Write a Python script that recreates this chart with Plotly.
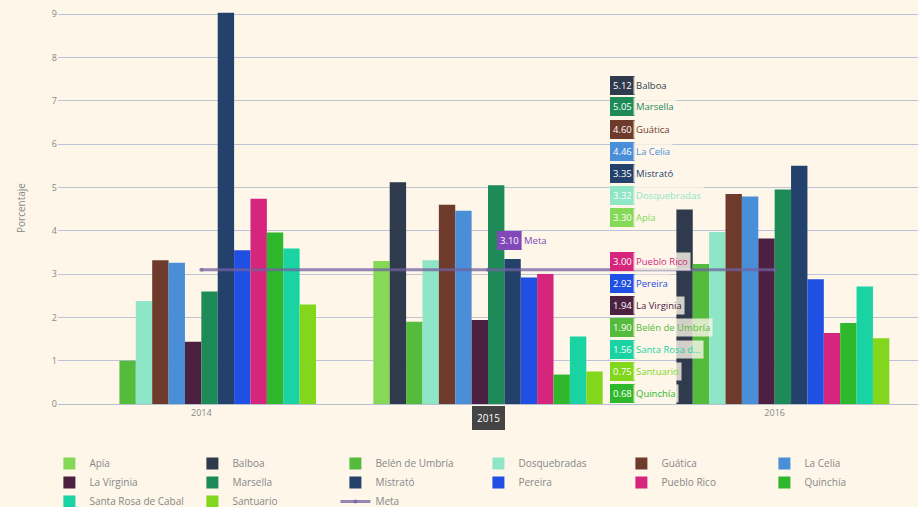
import plotly.graph_objects as go

years = ["2014", "2015", "2016"]
municipios = ["Apía", "Balboa", "Belén de Umbría", "Dosquebradas", "Guática", "La Celia",
              "La Virginia", "Marsella", "Mistrató", "Pereira", "Pueblo Rico", "Quinchía",
              "Santa Rosa de Cabal", "Santuario"]
colores = ["#86d957", "#2f3b4c", "#55bb3c", "#8fe6c6", "#6e3a2c", "#4a8ed8",
           "#4b2040", "#1e8a57", "#24416c", "#1f4fe3", "#d6257c", "#2fb82c",
           "#19d3a2", "#82d61c"]
v2014 = [None, None, 1.00, 2.38, 3.32, 3.26, 1.44, 2.60, 9.03, 3.55, 4.74, 3.96, 3.59, 2.30]
v2015 = [3.30, 5.12, 1.90, 3.32, 4.60, 4.46, 1.94, 5.05, 3.35, 2.92, 3.00, 0.68, 1.56, 0.75]
v2016 = [None, 4.49, 3.23, 3.97, 4.85, 4.79, 3.82, 4.95, 5.50, 2.88, 1.64, 1.87, 2.71, 1.52]
meta_nombre = "Meta"
meta_valor = 3.10
meta_color = "#8248b8"
meta_line_color = "rgba(112,98,160,0.75)"

BG = "#fdf6e9"
M_L, M_R, M_T, M_B = 58, 0, 12, 103
W, H = 918, 507
YMAX = 9.05
plot_h = H - M_T - M_B

fig = go.Figure()
for i, name in enumerate(municipios):
    fig.add_trace(go.Bar(
        x=years, y=[v2014[i], v2015[i], v2016[i]], name=name,
        marker=dict(color=colores[i], line=dict(width=0)),
    ))
fig.add_trace(go.Scatter(
    x=years, y=[meta_valor] * 3, name=meta_nombre, mode="lines+markers",
    line=dict(color=meta_line_color, width=3), marker=dict(size=4, color=meta_line_color),
))

# imitation of the hover labels shown at 2015
items = [(v2015[i], municipios[i], colores[i]) for i in range(len(municipios))]
items.append((meta_valor, meta_nombre, meta_color))
items.sort(key=lambda t: -t[0])
slot = 22
bottom_center = plot_h - 11
n = len(items)
annotations = []
for k, (val, name, col) in enumerate(items):
    ypx = bottom_center - (n - 1 - k) * slot  # px from top of plot
    yp = 1 - ypx / plot_h
    if name == meta_nombre:
        continue
    short = name if len(name) <= 15 else name[:12] + "..."
    annotations.append(dict(x=1.4, xref="x", y=yp, yref="paper", xanchor="left", yanchor="middle",
                            xshift=7, text=f"{val:.2f}", showarrow=False,
                            font=dict(color="white", size=9.5), bgcolor=col, bordercolor=col,
                            borderpad=2))
    annotations.append(dict(x=1.4, xref="x", y=yp, yref="paper", xanchor="left", yanchor="middle",
                            xshift=30, text=short, showarrow=False,
                            font=dict(color=col, size=9.5), bgcolor="rgba(253,246,233,0.8)",
                            borderpad=2))
# Meta label
annotations.append(dict(x=1, xref="x", y=meta_valor, yref="y", xanchor="left", yanchor="middle",
                        xshift=9, yshift=29, text=f"{meta_valor:.2f}", showarrow=False,
                        font=dict(color="white", size=9.5), bgcolor=meta_color, bordercolor=meta_color,
                        borderpad=2))
annotations.append(dict(x=1, xref="x", y=meta_valor, yref="y", xanchor="left", yanchor="middle",
                        xshift=33, yshift=29, text=meta_nombre, showarrow=False,
                        font=dict(color=meta_color, size=9.5), bgcolor="rgba(253,246,233,0.8)",
                        borderpad=2))
# x spike label (covers the 2015 tick label, as in a hover state)
annotations.append(dict(x=1, xref="x", y=0, yref="paper", xanchor="center", yanchor="top",
                        yshift=-2, text=years[1], showarrow=False,
                        font=dict(color="white", size=10), bgcolor="#444444", bordercolor="#444444",
                        borderpad=4))

fig.update_layout(
    width=W, height=H,
    margin=dict(l=M_L, r=M_R, t=M_T, b=M_B, autoexpand=False),
    paper_bgcolor=BG, plot_bgcolor=BG,
    barmode="group", bargap=0.2, bargroupgap=0,
    font=dict(family="Open Sans", size=10, color="#888888"),
    xaxis=dict(type="category", showgrid=False, tickfont=dict(size=9, color="#888888"),
               showline=True, linecolor="#b9c0d2", linewidth=1, ticks=""),
    yaxis=dict(range=[0, YMAX], dtick=1, gridcolor="#bcc4d6", gridwidth=1,
               zeroline=True, zerolinecolor="#aab2c4", zerolinewidth=1,
               tickfont=dict(size=9, color="#888888"),
               title=dict(text="Porcentaje", font=dict(size=10, color="#888888"), standoff=24)),
    legend=dict(orientation="h", x=-0.01, xanchor="left", y=-0.115, yanchor="top",
                font=dict(size=10, color="#888888"), entrywidth=98, entrywidthmode="pixels",
                bgcolor="rgba(0,0,0,0)"),
    annotations=annotations,
    showlegend=True,
)

fig.write_html("out.html")
